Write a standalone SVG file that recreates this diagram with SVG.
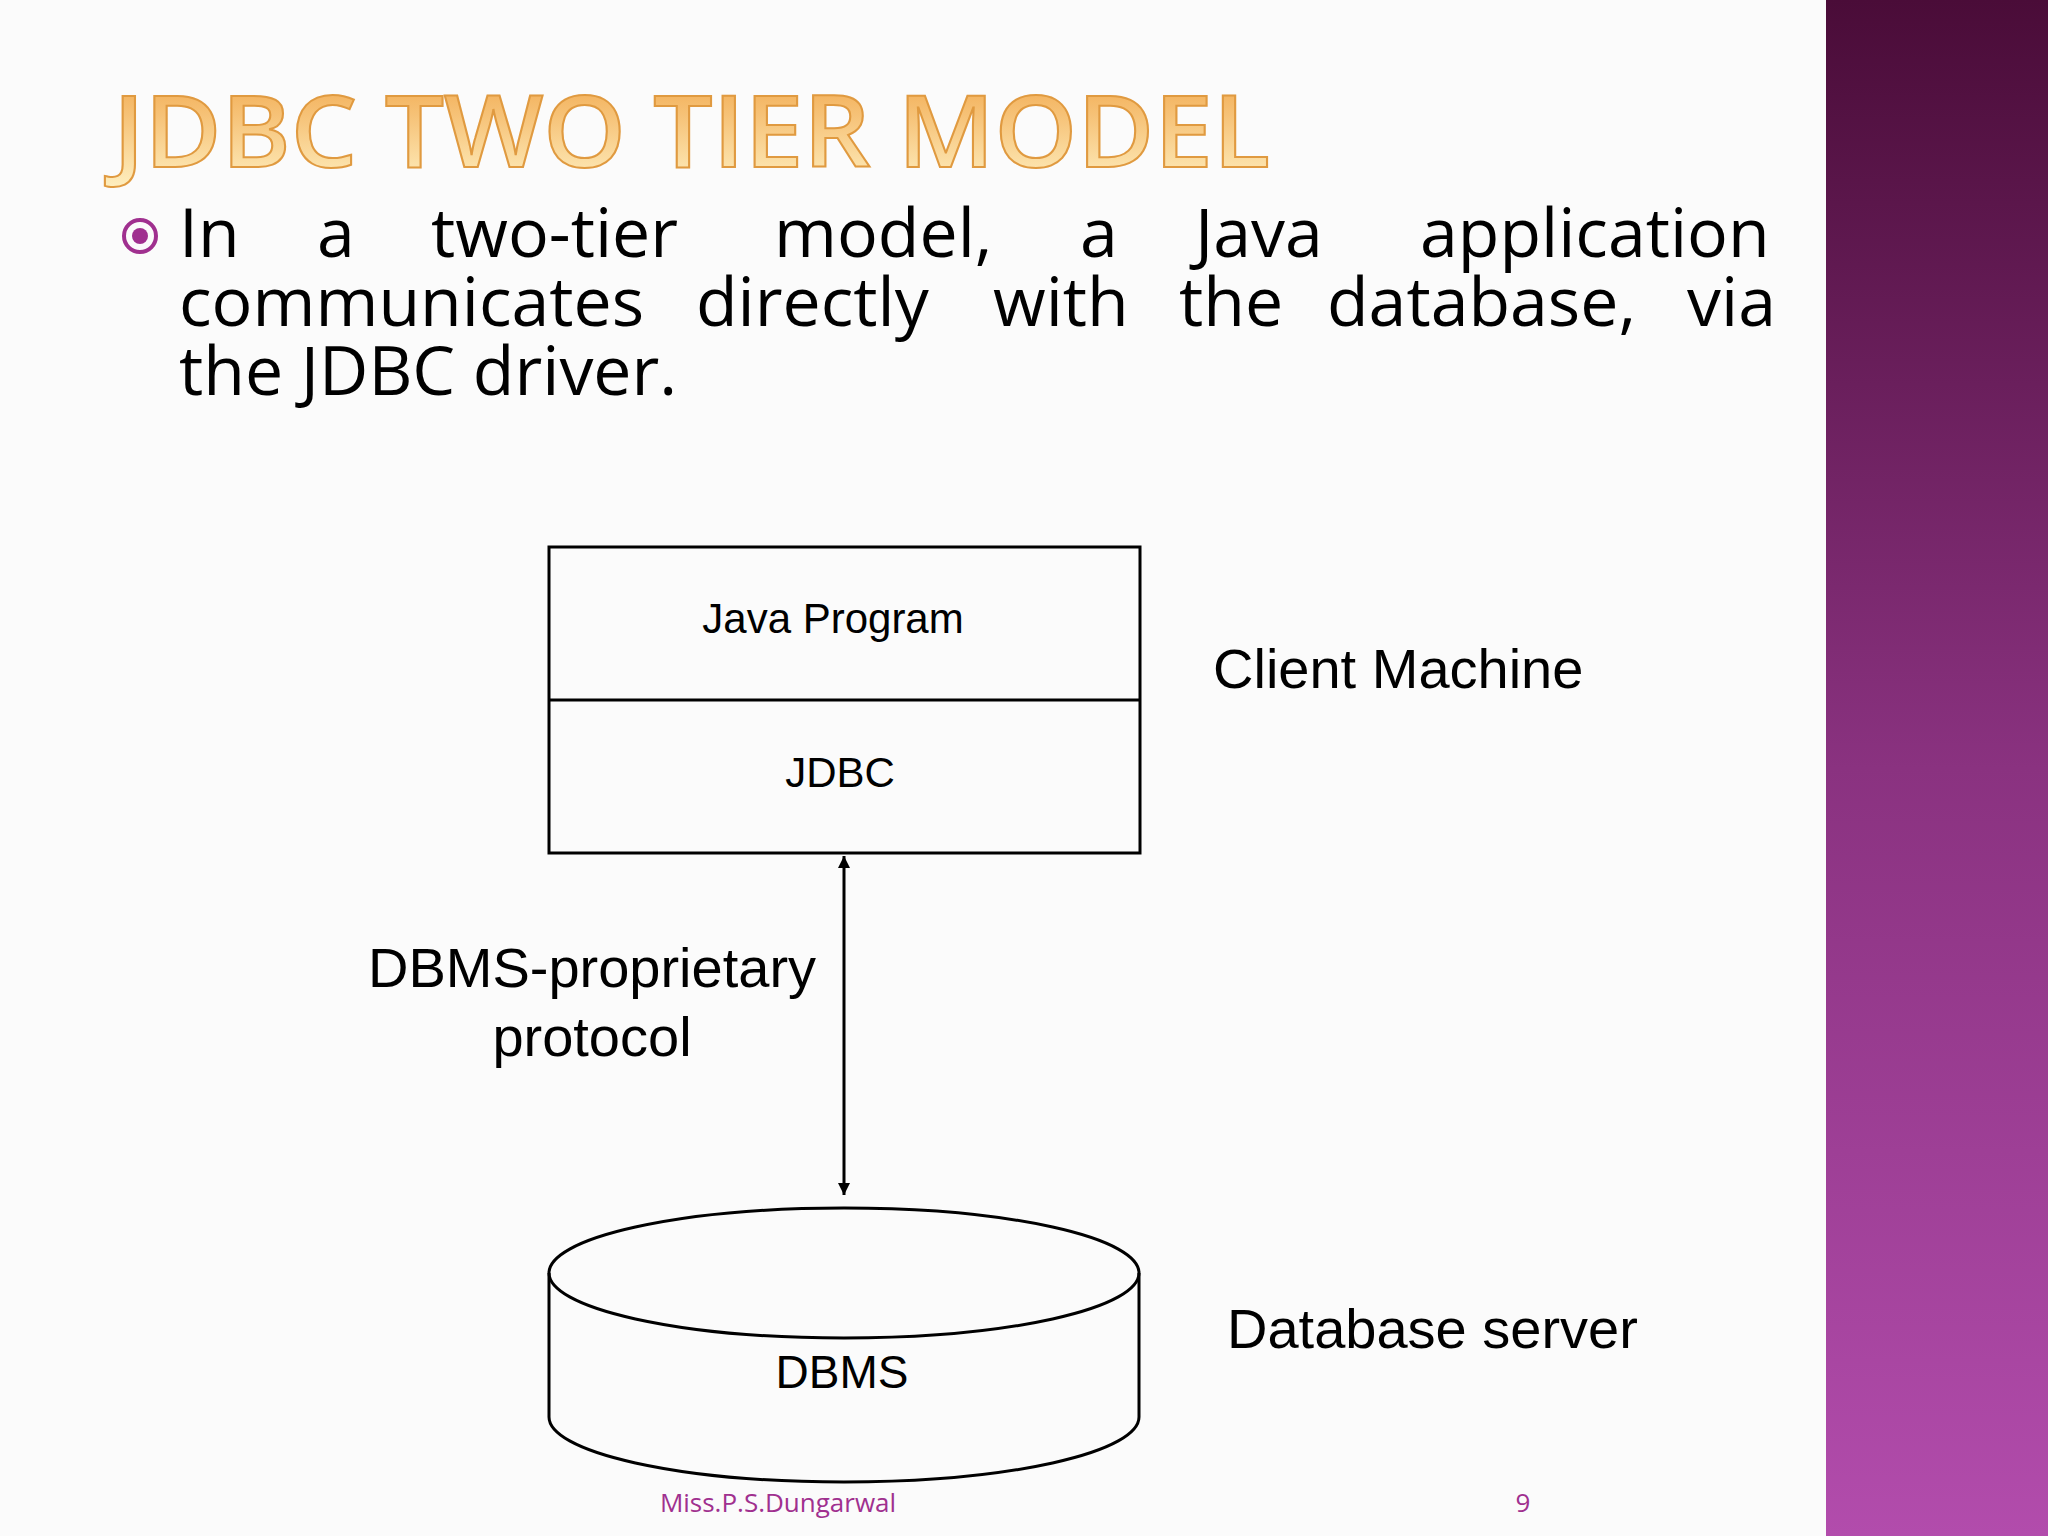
<svg xmlns="http://www.w3.org/2000/svg" width="2048" height="1536" viewBox="0 0 2048 1536">
<defs>
<linearGradient id="side" x1="0" y1="0" x2="0" y2="1"><stop offset="0" stop-color="#4a0c38"/><stop offset="0.5" stop-color="#8a3280"/><stop offset="1" stop-color="#b24cac"/></linearGradient>
<linearGradient id="title" x1="0" y1="0" x2="0" y2="1"><stop offset="0" stop-color="#f0a040"/><stop offset="1" stop-color="#fff4c8"/></linearGradient>
<marker id="ah" viewBox="0 0 10 10" refX="10" refY="5" markerWidth="12" markerHeight="12" orient="auto-start-reverse" markerUnits="userSpaceOnUse"><path d="M0,0 L10,5 L0,10 z" fill="#000"/></marker>
</defs>
<style>
.d{font-family:"Liberation Sans",Arial,sans-serif;fill:#000}
.b{font-family:"Open Sans","DejaVu Sans",sans-serif;font-size:68px;fill:#000}
.s{fill:none;stroke:#000;stroke-width:3}
</style>
<rect width="2048" height="1536" fill="#fbfbfb"/>
<rect x="1826" y="0" width="222" height="1536" fill="url(#side)"/>
<text x="113" y="167" font-family="'Open Sans','DejaVu Sans',sans-serif" font-size="100" font-weight="600" fill="url(#title)" stroke="#e09a40" stroke-width="2" textLength="1157" lengthAdjust="spacingAndGlyphs">JDBC TWO TIER MODEL</text>
<circle cx="140" cy="236" r="16" fill="none" stroke="#a0308f" stroke-width="4"/>
<circle cx="140" cy="236" r="8" fill="#a0308f"/>
<text class="b" y="257"><tspan x="179">In</tspan><tspan x="317">a</tspan><tspan x="431">two-tier</tspan><tspan x="774">model,</tspan><tspan x="1080">a</tspan><tspan x="1195">Java</tspan><tspan x="1420">application</tspan></text>
<text class="b" y="326"><tspan x="179">communicates</tspan><tspan x="696">directly</tspan><tspan x="993">with</tspan><tspan x="1179">the</tspan><tspan x="1327">database,</tspan><tspan x="1687">via</tspan></text>
<text class="b" x="179" y="395">the JDBC driver.</text>
<g id="client">
<rect class="s" x="549" y="547" width="591" height="306"/>
<line class="s" x1="549" y1="700" x2="1140" y2="700"/>
<text class="d" x="833" y="633" font-size="42" text-anchor="middle">Java Program</text>
<text class="d" x="840" y="787" font-size="42" text-anchor="middle">JDBC</text>
</g>
<text class="d" x="1213" y="688" font-size="56">Client Machine</text>
<g id="connectors">
<line class="s" x1="844" y1="856" x2="844" y2="1195" marker-start="url(#ah)" marker-end="url(#ah)"/>
</g>
<text class="d" x="592" y="987" font-size="56" text-anchor="middle">DBMS-proprietary</text>
<text class="d" x="592" y="1056" font-size="56" text-anchor="middle">protocol</text>
<g id="dbms">
<ellipse class="s" cx="844" cy="1273" rx="295" ry="65"/>
<path class="s" d="M549,1273 V1417 A295,65 0 0 0 1139,1417 V1273"/>
<text class="d" x="842" y="1388" font-size="46" text-anchor="middle">DBMS</text>
</g>
<text class="d" x="1227" y="1348" font-size="56">Database server</text>
<text x="778" y="1512" font-family="'Open Sans','DejaVu Sans',sans-serif" font-size="26" fill="#a0308f" text-anchor="middle">Miss.P.S.Dungarwal</text>
<text x="1523" y="1512" font-family="'Open Sans','DejaVu Sans',sans-serif" font-size="26" fill="#a0308f" text-anchor="middle">9</text>
</svg>
